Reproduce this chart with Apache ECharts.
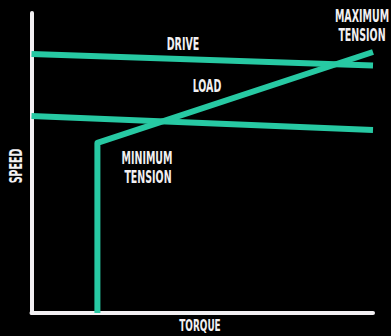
<!DOCTYPE html>
<html>
<head>
<meta charset="utf-8">
<script src="https://cdn.jsdelivr.net/npm/echarts@6/dist/echarts.min.js"></script>
<style>
  html, body { margin: 0; padding: 0; background: #000; }
  #chart { width: 391px; height: 336px; }
</style>
</head>
<body>
<div id="chart"></div>
<script>
// Torque (x) and speed (y) on a relative 0–100 scale.
const driveTorque = [0, 100];
const driveSpeedHigh = [86.3, 82.5];
const driveSpeedLow = [65.7, 61.0];
const loadTorque = [19.3, 19.3, 100];
const loadSpeed = [0, 56.7, 87.0];

const axisNames = { x: 'TORQUE', y: 'SPEED' };
const curveLabels = {
  drive: 'DRIVE',
  load: 'LOAD',
  minTension: ['MINIMUM', 'TENSION'],
  maxTension: ['MAXIMUM', 'TENSION']
};

const pairs = (xs, ys) => xs.map((x, i) => [x, ys[i]]);

const TEAL = '#27c9a3';
const INK = '#f2f0f2';
const FONT = '"Liberation Sans Narrow", "DejaVu Sans Condensed", "Liberation Sans", sans-serif';

// Condensed, heavy caption text: squeeze horizontally around its centre.
function label(text, x, y, rotation, size) {
  return {
    type: 'text',
    x: x,
    y: y,
    rotation: rotation || 0,
    scaleX: 0.62,
    silent: true,
    style: {
      text: text,
      fill: INK,
      font: 'bold ' + (size || 17) + 'px ' + FONT,
      align: 'center',
      verticalAlign: 'middle'
    }
  };
}

const chart = echarts.init(document.getElementById('chart'), null, { renderer: 'svg' });

const lineSeries = (name, data) => ({
  name: name,
  type: 'line',
  data: data,
  showSymbol: false,
  silent: true,
  animation: false,
  lineStyle: { color: TEAL, width: 6, join: 'round', cap: 'butt' },
  z: 3
});

chart.setOption({
  backgroundColor: '#000',
  animation: false,
  grid: { left: 31.5, top: 13, right: 18, bottom: 23 },
  xAxis: {
    type: 'value', min: 0, max: 100,
    axisLine: { show: true, lineStyle: { color: INK, width: 4, cap: 'round' } },
    axisTick: { show: false }, axisLabel: { show: false }, splitLine: { show: false }
  },
  yAxis: {
    type: 'value', min: 0, max: 100,
    axisLine: { show: true, lineStyle: { color: INK, width: 4, cap: 'round' } },
    axisTick: { show: false }, axisLabel: { show: false }, splitLine: { show: false }
  },
  series: [
    lineSeries('Drive', pairs(driveTorque, driveSpeedHigh)),
    lineSeries('Drive (reduced)', pairs(driveTorque, driveSpeedLow)),
    lineSeries('Load', pairs(loadTorque, loadSpeed))
  ],
  graphic: [
    label(curveLabels.drive, 183, 44),
    label(curveLabels.load, 207, 86),
    label(curveLabels.minTension[0], 147, 158),
    label(curveLabels.minTension[1], 148, 177),
    label(curveLabels.maxTension[0], 362, 16),
    label(curveLabels.maxTension[1], 362, 35),
    label(axisNames.y, 15.5, 166, Math.PI / 2),
    label(axisNames.x, 200, 326, 0, 16)
  ]
});
</script>
</body>
</html>
